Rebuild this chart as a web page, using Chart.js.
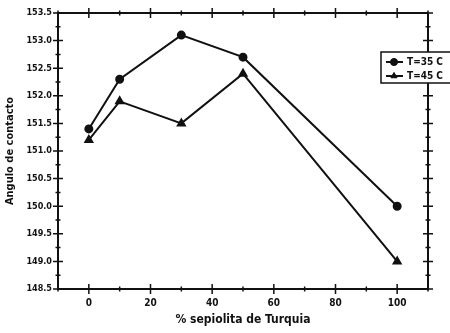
<!DOCTYPE html>
<html>
<head>
<meta charset="utf-8">
<script src="https://cdn.jsdelivr.net/npm/chart.js@4/dist/chart.umd.min.js"></script>
<style>
    html, body { margin: 0; padding: 0; background: #fff; }
    #chart { display: block; }
</style>
</head>
<body>
<canvas id="chart" width="450" height="333"></canvas>
<script>
// data
const pctSepiolita = [0, 10, 30, 50, 100];
const angulo35 = [151.4, 152.3, 153.1, 152.7, 150.0];
const angulo45 = [151.2, 151.9, 151.5, 152.4, 149.0];
const seriesLabels = ["T=35 C", "T=45 C"];
const xTickValues = [0, 20, 40, 60, 80, 100];
const xMinorValues = [-10, 10, 30, 50, 70, 90, 110];

const FONT = '"Liberation Sans Narrow", "DejaVu Sans Condensed", "Arial Narrow", sans-serif';
const INK = '#111';

function toPoints(ys) {
    return pctSepiolita.map((x, i) => ({ x: x, y: ys[i] }));
}

// frame on top/right + crossing ticks on every side, plus the boxed legend
const frameTicks = {
    id: 'frameTicks',
    afterDraw(chart) {
        const ctx = chart.ctx;
        const a = chart.chartArea;
        const xs = chart.scales.x;
        const ys = chart.scales.y;
        ctx.save();
        ctx.strokeStyle = INK;
        ctx.lineWidth = 2;
        ctx.beginPath();
        ctx.moveTo(a.left, a.top);
        ctx.lineTo(a.right, a.top);
        ctx.lineTo(a.right, a.bottom);
        ctx.stroke();

        ctx.lineWidth = 1.5;
        const vTick = (px, len) => {
            ctx.beginPath();
            ctx.moveTo(px, a.bottom - len); ctx.lineTo(px, a.bottom + len);
            ctx.moveTo(px, a.top - len); ctx.lineTo(px, a.top + len);
            ctx.stroke();
        };
        const hTick = (py, len) => {
            ctx.beginPath();
            ctx.moveTo(a.left - len, py); ctx.lineTo(a.left + len, py);
            ctx.moveTo(a.right - len, py); ctx.lineTo(a.right + len, py);
            ctx.stroke();
        };
        xTickValues.forEach(v => vTick(xs.getPixelForValue(v), 5));
        xMinorValues.forEach(v => vTick(xs.getPixelForValue(v), 2.5));
        for (let v = ys.min; v <= ys.max + 1e-9; v += 0.5) {
            hTick(ys.getPixelForValue(v), 5);
            if (v + 0.25 < ys.max) hTick(ys.getPixelForValue(v + 0.25), 2.5);
        }

        // legend box, sitting over the right edge of the frame
        const bx = 381, by = 52, bw = 80, bh = 31;
        ctx.fillStyle = '#fff';
        ctx.fillRect(bx, by, bw, bh);
        ctx.lineWidth = 1.5;
        ctx.strokeRect(bx, by, bw, bh);
        const styles = ['circle', 'triangle'];
        chart.data.datasets.forEach((ds, i) => {
            const ly = by + 10 + i * 14;
            ctx.lineWidth = 2;
            ctx.beginPath();
            ctx.moveTo(386, ly); ctx.lineTo(403, ly);
            ctx.stroke();
            ctx.fillStyle = INK;
            ctx.lineWidth = 1;
            Chart.helpers.drawPoint(ctx, {
                pointStyle: styles[i], radius: 3.5, borderWidth: 1
            }, 394, ly);
            ctx.fill();
            ctx.font = 'bold 10px ' + FONT;
            ctx.textBaseline = 'middle';
            ctx.textAlign = 'left';
            ctx.fillText(ds.label, 407, ly);
        });
        ctx.restore();
    }
};

const ctx = document.getElementById('chart').getContext('2d');
new Chart(ctx, {
    type: 'line',
    data: {
        datasets: [
            {
                label: seriesLabels[0],
                data: toPoints(angulo35),
                borderColor: INK,
                backgroundColor: INK,
                borderWidth: 2,
                pointStyle: 'circle',
                pointRadius: 3.5,
                tension: 0
            },
            {
                label: seriesLabels[1],
                data: toPoints(angulo45),
                borderColor: INK,
                backgroundColor: INK,
                borderWidth: 2,
                pointStyle: 'triangle',
                pointRadius: 4,
                tension: 0
            }
        ]
    },
    options: {
        responsive: false,
        animation: false,
        layout: { padding: { top: 13, right: 22, left: 0, bottom: 0 } },
        plugins: {
            legend: { display: false },
            tooltip: { enabled: false }
        },
        scales: {
            x: {
                type: 'linear',
                min: -10,
                max: 110,
                afterBuildTicks: (scale) => {
                    scale.ticks = xTickValues.map(v => ({ value: v }));
                },
                afterFit: (scale) => { scale.height = 44; },
                grid: { display: false, drawTicks: false },
                border: { display: true, color: INK, width: 2 },
                ticks: {
                    color: INK,
                    padding: 8,
                    maxRotation: 0,
                    font: { family: FONT, size: 10, weight: 'bold' }
                },
                title: {
                    display: true,
                    text: '% sepiolita de Turquia',
                    color: INK,
                    padding: { top: 0, bottom: 6 },
                    font: { family: FONT, size: 12, weight: 'bold' }
                }
            },
            y: {
                min: 148.5,
                max: 153.5,
                afterFit: (scale) => { scale.width = 58; },
                grid: { display: false, drawTicks: false },
                border: { display: true, color: INK, width: 2 },
                ticks: {
                    stepSize: 0.5,
                    color: INK,
                    padding: 6,
                    font: { family: FONT, size: 9, weight: 'bold' },
                    callback: (v) => Number(v).toFixed(1)
                },
                title: {
                    display: true,
                    text: 'Angulo de contacto',
                    color: INK,
                    padding: { top: 4, bottom: 0 },
                    font: { family: FONT, size: 11, weight: 'bold' }
                }
            }
        }
    },
    plugins: [frameTicks]
});
</script>
</body>
</html>
